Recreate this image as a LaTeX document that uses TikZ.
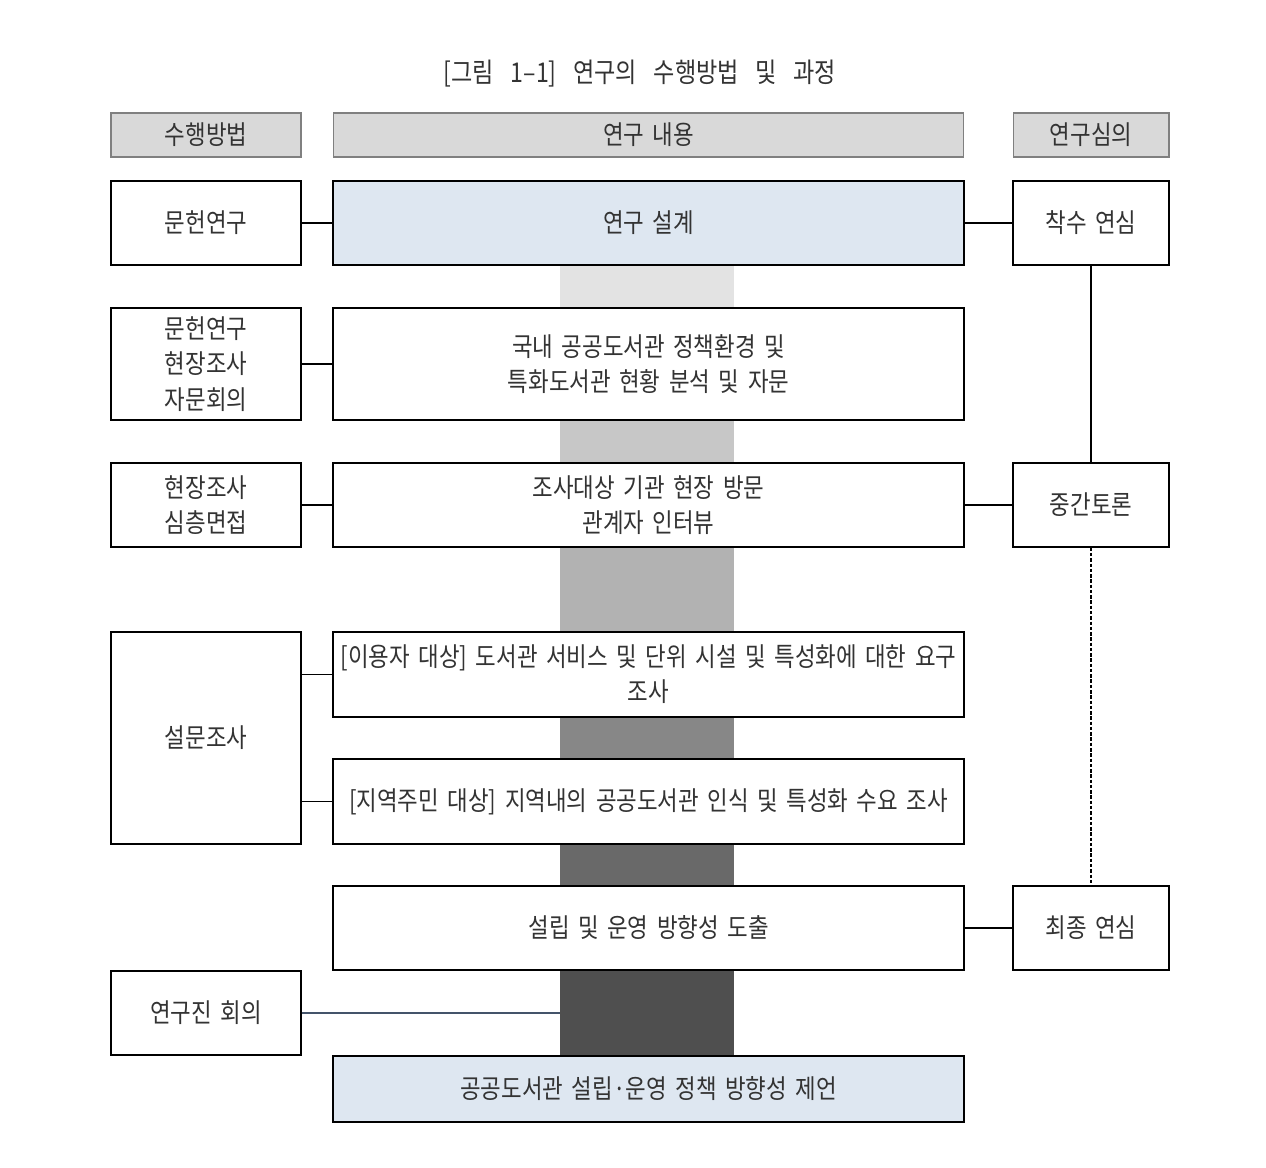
\documentclass[tikz,border=0pt]{standalone}
\usepackage{fontspec}
\setmainfont{Noto Sans CJK KR}[FakeStretch=0.85, WordSpace=1.7]
\newfontfamily\titlefont{Noto Sans CJK KR}[FakeStretch=0.85, WordSpace=3.2]
\usetikzlibrary{positioning}

\definecolor{headgray}{HTML}{D9D9D9}
\definecolor{paleblue}{HTML}{DEE7F1}
\definecolor{linkblue}{HTML}{44546A}

\begin{document}
\begin{tikzpicture}[x=0.02cm, y=-0.02cm,
	every node/.style={font=\fontsize{15}{20}\selectfont, text=black!80},
	head/.style={draw=black!50, fill=headgray, line width=0.6pt, inner sep=0pt, minimum height=0.88cm},
	box/.style={draw=black, fill=white, line width=0.8pt, inner sep=0pt, align=center},
	side/.style={box, minimum width=3.8cm},
	main/.style={box, minimum width=12.62cm},
	check/.style={box, minimum width=3.12cm},
	bar/.style={draw=none, inner sep=0pt, minimum width=3.48cm},
	link/.style={line width=0.8pt}]
	\useasboundingbox (0,0) rectangle (1266,1167);

	% Title
	\node[font=\titlefont\fontsize{15.5}{20}\selectfont] (title) at (640,74) {[그림 1–1] 연구의 수행방법 및 과정};

	% Column headers
	\node[head, minimum width=3.8cm] (hmethod) at (206,135) {수행방법};
	\node[head, minimum width=12.62cm] (hcontent) at (648.5,135) {연구 내용};
	\node[head, minimum width=3.12cm] (hreview) at (1091,135) {연구심의};

	% Flow bars
	\node[bar, fill=black!11, minimum height=0.86cm] (bar1) at (647,286.5) {};
	\node[bar, fill=black!22, minimum height=0.86cm] (bar2) at (647,441.5) {};
	\node[bar, fill=black!30, minimum height=1.70cm] (bar3) at (647,589.5) {};
	\node[bar, fill=black!47, minimum height=0.84cm] (bar4) at (647,738) {};
	\node[bar, fill=black!59, minimum height=0.84cm] (bar5) at (647,865) {};
	\node[bar, fill=black!69, minimum height=1.72cm] (bar6) at (647,1013) {};

	% Research content
	\node[main, fill=paleblue, minimum height=1.68cm] (design) at (648.5,223) {연구 설계};
	\node[main, minimum height=2.24cm] (analysis) at (648.5,364) {국내 공공도서관 정책환경 및\\특화도서관 현황 분석 및 자문};
	\node[main, minimum height=1.68cm] (visit) at (648.5,505) {조사대상 기관 현장 방문\\관계자 인터뷰};
	\node[main, minimum height=1.70cm] (users) at (648.5,674.5) {[이용자 대상] 도서관 서비스 및 단위 시설 및 특성화에 대한 요구\\조사};
	\node[main, minimum height=1.70cm] (residents) at (648.5,801.5) {[지역주민 대상] 지역내의 공공도서관 인식 및 특성화 수요 조사};
	\node[main, minimum height=1.68cm] (derive) at (648.5,928) {설립 및 운영 방향성 도출};
	\node[main, fill=paleblue, minimum height=1.32cm] (propose) at (648.5,1089) {공공도서관 설립·운영 정책 방향성 제언};

	% Methods
	\node[side, minimum height=1.68cm] (lit) at (206,223) {문헌연구};
	\node[side, minimum height=2.24cm] (litfield) at (206,364) {문헌연구\\현장조사\\자문회의};
	\node[side, minimum height=1.68cm] (field) at (206,505) {현장조사\\심층면접};
	\node[side, minimum height=4.24cm] (survey) at (206,738) {설문조사};
	\node[side, minimum height=1.68cm] (team) at (206,1013) {연구진 회의};

	% Review meetings
	\node[check, minimum height=1.68cm] (kickoff) at (1091,223) {착수 연심};
	\node[check, minimum height=1.68cm] (interim) at (1091,505) {중간토론};
	\node[check, minimum height=1.68cm] (final) at (1091,928) {최종 연심};

	% Connectors
	\draw[link] (lit) -- (design);
	\draw[link] (litfield) -- (analysis);
	\draw[link] (field) -- (visit);
	\draw[link] (survey.east |- users) -- (users);
	\draw[link] (survey.east |- residents) -- (residents);
	\draw[link, linkblue] (team) -- (bar6.west);
	\draw[link] (design) -- (kickoff);
	\draw[link] (visit) -- (interim);
	\draw[link] (derive) -- (final);
	\draw[link] (kickoff) -- (interim);
	\draw[link, dash pattern=on 2pt off 1pt] (interim) -- (final);
\end{tikzpicture}
\end{document}
